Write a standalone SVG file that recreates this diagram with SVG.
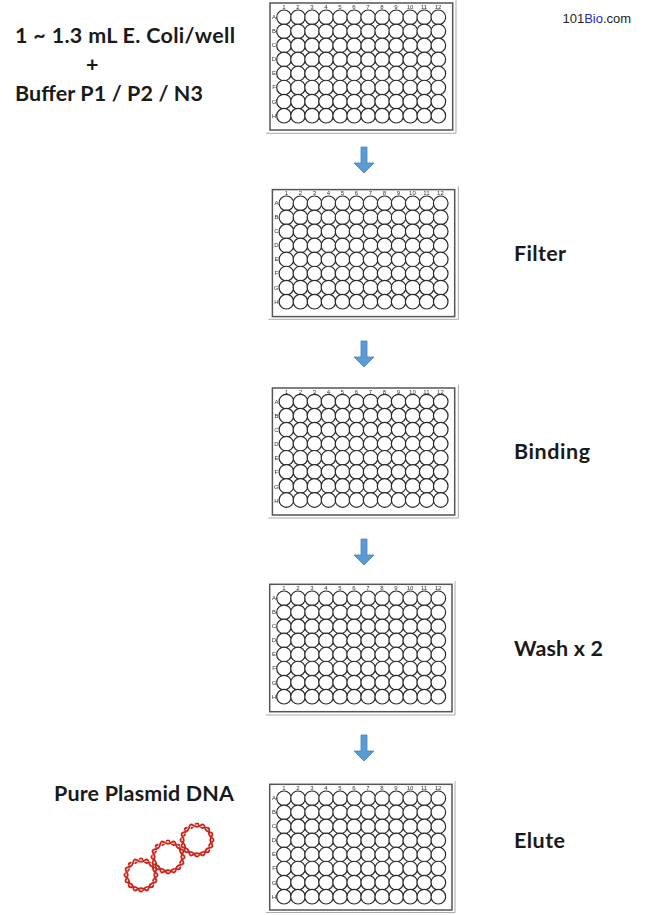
<svg xmlns="http://www.w3.org/2000/svg" xmlns:xlink="http://www.w3.org/1999/xlink" width="651" height="915" viewBox="0 0 651 915">
<style>
.lab{font-family:"Lato","Open Sans",sans-serif;font-weight:700;font-size:21.5px;fill:#1a1a1a}
.p text{font-family:"Liberation Sans",sans-serif;font-size:6px;fill:#333;text-anchor:middle}
.frame{fill:#fff;stroke:#555;stroke-width:1.5}
.sh{fill:none;stroke:#aaa;stroke-width:1}
.w{fill:#fff;stroke:#2a2a2a;stroke-width:1.2}
.arr{fill:#5b9bd5;stroke:#4a82b5;stroke-width:.8}
.dna{fill:none;stroke:#c9281f;stroke-width:1.9;stroke-linecap:butt}
.gap{fill:none;stroke:#fff;stroke-width:3.2}
</style>
<defs>
<filter id="soft" x="-5%" y="-5%" width="110%" height="110%"><feGaussianBlur stdDeviation="0.3"/></filter>
<g id="row">
<circle class="w" cx="0" cy="0" r="7.3"/><circle class="w" cx="14.03" cy="0" r="7.3"/><circle class="w" cx="28.06" cy="0" r="7.3"/><circle class="w" cx="42.09" cy="0" r="7.3"/><circle class="w" cx="56.12" cy="0" r="7.3"/><circle class="w" cx="70.15" cy="0" r="7.3"/><circle class="w" cx="84.18" cy="0" r="7.3"/><circle class="w" cx="98.21" cy="0" r="7.3"/><circle class="w" cx="112.24" cy="0" r="7.3"/><circle class="w" cx="126.27" cy="0" r="7.3"/><circle class="w" cx="140.3" cy="0" r="7.3"/><circle class="w" cx="154.33" cy="0" r="7.3"/>
</g>
<g id="wells">
<use xlink:href="#row" y="0"/><use xlink:href="#row" y="14.05"/><use xlink:href="#row" y="28.1"/><use xlink:href="#row" y="42.15"/><use xlink:href="#row" y="56.2"/><use xlink:href="#row" y="70.25"/><use xlink:href="#row" y="84.3"/><use xlink:href="#row" y="98.4"/>
</g>
<path id="arrow" class="arr" d="M-3 0H3V16H10L0 26L-10 16H-3Z"/>
<path id="s1" d="M14.8 2.3Q11.1 4.6 12.1 8.85T8.85 12.1T2.3 14.8T-2.3 14.8T-8.85 12.1T-12.1 8.85T-14.8 2.3T-14.8 -2.3T-12.1 -8.85T-8.85 -12.1T-2.3 -14.8T2.3 -14.8T8.85 -12.1T12.1 -8.85T14.8 -2.3T14.8 2.3"/>
<g id="ring">
<use xlink:href="#s1" class="dna"/>
<use xlink:href="#s1" class="gap" transform="rotate(22.5)" stroke-dasharray="3 4.4"/>
<use xlink:href="#s1" class="dna" transform="rotate(22.5)"/>
</g>
</defs>

<g id="connectors">
<use xlink:href="#arrow" x="364" y="147"/>
<use xlink:href="#arrow" x="364" y="341"/>
<use xlink:href="#arrow" x="364" y="539"/>
<use xlink:href="#arrow" x="364" y="735"/>
</g>

<g id="plate1" class="p" transform="translate(284 17.3)" filter="url(#soft)">
<path class="sh" d="M-18 116H172V-17"/>
<rect class="frame" x="-14" y="-14.3" width="182.7" height="127"/>
<use xlink:href="#wells"/>
<text x="0" y="-8">1</text><text x="14" y="-8">2</text><text x="28" y="-8">3</text><text x="42" y="-8">4</text><text x="56" y="-8">5</text><text x="70" y="-8">6</text><text x="84" y="-8">7</text><text x="98" y="-8">8</text><text x="112" y="-8">9</text><text x="126" y="-8">10</text><text x="140" y="-8">11</text><text x="154" y="-8">12</text>
<text x="-10" y="2">A</text><text x="-10" y="16">B</text><text x="-10" y="30">C</text><text x="-10" y="44">D</text><text x="-10" y="58">E</text><text x="-10" y="72">F</text><text x="-10" y="87">G</text><text x="-10" y="101">H</text>
</g>
<g id="plate2" class="p" transform="translate(286.4 203.3)" filter="url(#soft)">
<path class="sh" d="M-18 116H172V-17"/>
<rect class="frame" x="-14" y="-13.7" width="182.3" height="127"/>
<use xlink:href="#wells"/>
<text x="0" y="-8">1</text><text x="14" y="-8">2</text><text x="28" y="-8">3</text><text x="42" y="-8">4</text><text x="56" y="-8">5</text><text x="70" y="-8">6</text><text x="84" y="-8">7</text><text x="98" y="-8">8</text><text x="112" y="-8">9</text><text x="126" y="-8">10</text><text x="140" y="-8">11</text><text x="154" y="-8">12</text>
<text x="-10" y="2">A</text><text x="-10" y="16">B</text><text x="-10" y="30">C</text><text x="-10" y="44">D</text><text x="-10" y="58">E</text><text x="-10" y="72">F</text><text x="-10" y="87">G</text><text x="-10" y="101">H</text>
</g>
<g id="plate3" class="p" transform="translate(286.4 401.6)" filter="url(#soft)">
<path class="sh" d="M-18 116.4H172V-17"/>
<rect class="frame" x="-14" y="-13.6" width="182.3" height="127"/>
<use xlink:href="#wells"/>
<text x="0" y="-8">1</text><text x="14" y="-8">2</text><text x="28" y="-8">3</text><text x="42" y="-8">4</text><text x="56" y="-8">5</text><text x="70" y="-8">6</text><text x="84" y="-8">7</text><text x="98" y="-8">8</text><text x="112" y="-8">9</text><text x="126" y="-8">10</text><text x="140" y="-8">11</text><text x="154" y="-8">12</text>
<text x="-10" y="2">A</text><text x="-10" y="16">B</text><text x="-10" y="30">C</text><text x="-10" y="44">D</text><text x="-10" y="58">E</text><text x="-10" y="72">F</text><text x="-10" y="87">G</text><text x="-10" y="101">H</text>
</g>
<g id="plate4" class="p" transform="translate(284 598.3)" filter="url(#soft)">
<path class="sh" d="M-18 116.7H171V-17"/>
<rect class="frame" x="-14.3" y="-14" width="182.3" height="127.4"/>
<use xlink:href="#wells"/>
<text x="0" y="-8">1</text><text x="14" y="-8">2</text><text x="28" y="-8">3</text><text x="42" y="-8">4</text><text x="56" y="-8">5</text><text x="70" y="-8">6</text><text x="84" y="-8">7</text><text x="98" y="-8">8</text><text x="112" y="-8">9</text><text x="126" y="-8">10</text><text x="140" y="-8">11</text><text x="154" y="-8">12</text>
<text x="-10" y="2">A</text><text x="-10" y="16">B</text><text x="-10" y="30">C</text><text x="-10" y="44">D</text><text x="-10" y="58">E</text><text x="-10" y="72">F</text><text x="-10" y="87">G</text><text x="-10" y="101">H</text>
</g>
<g id="plate5" class="p" transform="translate(284 798.3)" filter="url(#soft)">
<path class="sh" d="M-18 114.2H171V-17"/>
<rect class="frame" x="-14.3" y="-14" width="182.3" height="125.7"/>
<use xlink:href="#wells"/>
<text x="0" y="-8">1</text><text x="14" y="-8">2</text><text x="28" y="-8">3</text><text x="42" y="-8">4</text><text x="56" y="-8">5</text><text x="70" y="-8">6</text><text x="84" y="-8">7</text><text x="98" y="-8">8</text><text x="112" y="-8">9</text><text x="126" y="-8">10</text><text x="140" y="-8">11</text><text x="154" y="-8">12</text>
<text x="-10" y="2">A</text><text x="-10" y="16">B</text><text x="-10" y="30">C</text><text x="-10" y="44">D</text><text x="-10" y="58">E</text><text x="-10" y="72">F</text><text x="-10" y="87">G</text><text x="-10" y="101">H</text>
</g>

<g id="label-input">
<text class="lab" x="15" y="42.5" textLength="220">1 ~ 1.3 mL E. Coli/well</text>
<text class="lab" x="86" y="72">+</text>
<text class="lab" x="15" y="100.5" textLength="188">Buffer P1 / P2 / N3</text>
</g>
<text id="brand" x="562.5" y="23" font-family="'Liberation Sans',sans-serif" font-size="13" fill="#222">101<tspan fill="#2a2ac0">Bio</tspan>.com</text>
<text id="label-filter" class="lab" x="514" y="260.5" textLength="52">Filter</text>
<text id="label-binding" class="lab" x="514" y="458.5" textLength="76">Binding</text>
<text id="label-wash" class="lab" x="514" y="656" textLength="89">Wash x 2</text>
<text id="label-elute" class="lab" x="514" y="847.5" textLength="51">Elute</text>
<text id="label-pure" class="lab" x="54" y="801" textLength="180">Pure Plasmid DNA</text>

<g id="plasmid" filter="url(#soft)">
<use xlink:href="#ring" x="141" y="875"/>
<use xlink:href="#ring" x="168" y="857"/>
<use xlink:href="#ring" x="197" y="840"/>
</g>
</svg>
